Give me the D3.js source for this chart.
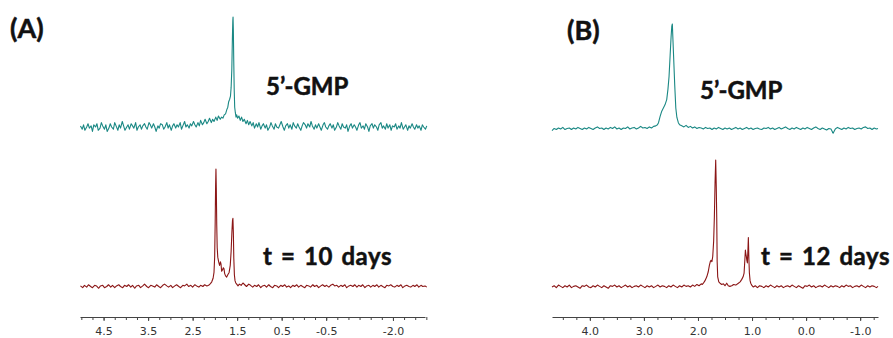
<!DOCTYPE html>
<html><head><meta charset="utf-8">
<script src="https://cdn.jsdelivr.net/npm/d3@7"></script>
<style>
html,body{margin:0;padding:0;background:#fff;}
svg{display:block;}
</style></head>
<body>
<svg id="chart" width="893" height="338"></svg>
<script>
// ---------- DATA (ppm, relative intensity %) ----------
const panelLabels = ["(A)", "(B)"];
const traceLabelsA = ["5\u2019-GMP", "t = 10 days"];
const traceLabelsB = ["5\u2019-GMP", "t = 12 days"];

const tickLabelsA = [4.5, 3.5, 2.5, 1.5, 0.5, -0.5, -2.0];
const tickLabelsB = [4.0, 3.0, 2.0, 1.0, 0.0, -1.0];
const minorTicksA = [5.0,4.75,4.5,4.25,4.0,3.75,3.5,3.25,3.0,2.75,2.5,2.25,2.0,1.75,1.5,1.25,1.0,0.75,0.5,0.25,0.0,-0.25,-0.5,-0.75,-1.0,-1.25,-1.5,-1.75,-2.0,-2.25,-2.5,-2.75];
const minorTicksB = [4.5,4.25,4.0,3.75,3.5,3.25,3.0,2.75,2.5,2.25,2.0,1.75,1.5,1.25,1.0,0.75,0.5,0.25,0.0,-0.25,-0.5,-0.75,-1.0,-1.25];

const specA_gmp = [
[5.02,1],[4.98,-2],[4.95,2],[4.92,-3],[4.88,0],[4.85,3],[4.82,-1],[4.78,1],[4.75,-4],[4.72,2],[4.68,0],[4.65,3],[4.62,-3],[4.58,-1],[4.55,4],[4.52,1],[4.48,-2],[4.45,2],[4.42,-4],[4.38,-1],[4.35,3],[4.32,0],[4.28,-2],[4.25,4],[4.22,1],[4.18,-3],[4.15,2],[4.12,-1],[4.08,5],[4.05,1],[4.02,-3],[3.98,0],[3.95,2],[3.92,-2],[3.88,3],[3.85,1],[3.82,-1],[3.78,4],[3.75,-3],[3.72,0],[3.68,2],[3.65,-2],[3.62,1],[3.58,3],[3.55,0],[3.52,-2],[3.48,4],[3.45,2],[3.42,-1],[3.38,3],[3.35,0],[3.32,-4],[3.28,1],[3.25,-1],[3.22,3],[3.18,2],[3.15,-2],[3.12,0],[3.08,4],[3.05,-1],[3.02,2],[2.98,-3],[2.95,1],[2.92,3],[2.88,-1],[2.85,2],[2.82,0],[2.78,4],[2.75,-2],[2.72,1],[2.68,5],[2.65,0],[2.62,2],[2.58,-1],[2.55,3],[2.52,1],[2.48,5],[2.45,2],[2.42,0],[2.38,4],[2.35,1],[2.32,6],[2.28,2],[2.25,4],[2.22,7],[2.18,3],[2.15,5],[2.12,8],[2.08,4],[2.05,7],[2.02,5],[1.98,9],[1.95,6],[1.92,10],[1.88,7],[1.85,9],[1.82,8],[1.79,11],[1.76,12],[1.73,16],[1.71,18],[1.69,23],[1.67,25],[1.65,28],[1.635,36],[1.62,52],[1.607,80],[1.598,96],[1.592,100],[1.585,88],[1.576,60],[1.566,34],[1.555,18],[1.54,13],[1.525,9],[1.51,11],[1.49,8],[1.46,10],[1.43,6],[1.40,9],[1.37,5],[1.34,7],[1.30,3],[1.27,6],[1.24,2],[1.21,5],[1.17,1],[1.14,4],[1.11,-1],[1.07,3],[1.04,0],[1.01,4],[0.97,-2],[0.94,1],[0.91,3],[0.87,-1],[0.84,2],[0.81,-3],[0.77,0],[0.74,4],[0.71,1],[0.67,-2],[0.64,3],[0.61,0],[0.57,-1],[0.54,2],[0.51,5],[0.47,0],[0.44,-3],[0.41,1],[0.37,3],[0.34,-1],[0.31,2],[0.27,-2],[0.24,4],[0.21,1],[0.17,-1],[0.14,3],[0.11,0],[0.07,-3],[0.04,1],[0.01,4],[-0.03,2],[-0.06,-1],[-0.09,3],[-0.13,0],[-0.16,5],[-0.19,1],[-0.23,-2],[-0.26,2],[-0.29,-1],[-0.33,3],[-0.36,0],[-0.39,-3],[-0.43,2],[-0.46,4],[-0.49,0],[-0.53,-2],[-0.56,1],[-0.59,3],[-0.63,-1],[-0.66,2],[-0.69,-3],[-0.73,0],[-0.76,4],[-0.79,1],[-0.83,-2],[-0.86,3],[-0.89,0],[-0.93,-1],[-0.96,2],[-0.99,-4],[-1.03,1],[-1.06,3],[-1.09,-1],[-1.13,2],[-1.16,0],[-1.19,-3],[-1.23,2],[-1.26,4],[-1.29,-1],[-1.33,1],[-1.36,-2],[-1.39,3],[-1.43,0],[-1.46,-4],[-1.49,1],[-1.53,3],[-1.56,-1],[-1.59,2],[-1.63,0],[-1.66,-3],[-1.69,2],[-1.73,4],[-1.76,-1],[-1.79,1],[-1.83,-2],[-1.86,3],[-1.89,-1],[-1.93,2],[-1.96,-3],[-1.99,1],[-2.03,0],[-2.06,3],[-2.09,-2],[-2.13,1],[-2.16,-1],[-2.19,4],[-2.23,-2],[-2.26,0],[-2.29,2],[-2.33,-3],[-2.36,1],[-2.39,-1],[-2.43,3],[-2.46,0],[-2.49,-2],[-2.53,2],[-2.56,-1],[-2.59,1],[-2.63,-3],[-2.66,2],[-2.69,0],[-2.73,-2],[-2.76,1]
];

const specA_10d = [
[5.02,0.5],[4.97,-1],[4.93,1],[4.88,-0.5],[4.84,1.5],[4.79,0],[4.75,-1],[4.70,1],[4.66,0.5],[4.61,-1.5],[4.57,0.5],[4.52,1],[4.48,-1],[4.43,0],[4.39,1.5],[4.34,-0.5],[4.30,1],[4.25,-1],[4.21,0.5],[4.16,1.5],[4.12,0],[4.07,-1],[4.03,1],[3.98,0],[3.94,1.5],[3.89,-0.5],[3.85,1],[3.80,-1.5],[3.76,0.5],[3.71,1],[3.67,-1],[3.62,0.5],[3.58,2],[3.53,0],[3.49,-1],[3.44,1],[3.40,0.5],[3.35,-0.5],[3.31,1.5],[3.26,0],[3.22,-1],[3.17,1],[3.13,2],[3.08,0.5],[3.04,-0.5],[2.99,1],[2.95,-1],[2.90,0.5],[2.86,1.5],[2.81,0],[2.77,-1],[2.72,1],[2.68,0.5],[2.63,2],[2.59,0],[2.54,1],[2.50,-0.5],[2.45,1.5],[2.41,0.5],[2.36,-0.5],[2.32,1],[2.27,0],[2.23,1.5],[2.18,0.5],[2.14,1],[2.10,2.5],[2.07,4],[2.04,7],[2.02,12],[2.005,25],[1.993,55],[1.984,85],[1.976,100],[1.968,84],[1.958,52],[1.948,33],[1.935,25],[1.915,21],[1.895,18],[1.875,21],[1.862,19],[1.848,13],[1.83,14],[1.81,16],[1.795,15],[1.78,11],[1.76,9],[1.735,8],[1.71,10],[1.68,12],[1.655,18],[1.635,30],[1.618,46],[1.605,56],[1.595,58],[1.585,46],[1.575,24],[1.562,10],[1.548,5],[1.53,3],[1.51,2],[1.48,0.5],[1.45,2],[1.41,1],[1.37,3],[1.33,1.5],[1.29,0],[1.24,2],[1.20,1],[1.15,-0.5],[1.11,1],[1.06,0],[1.02,1.5],[0.97,-1],[0.93,0.5],[0.88,1],[0.84,-0.5],[0.79,1.5],[0.75,0],[0.70,-1],[0.66,1],[0.61,0.5],[0.57,-1],[0.52,1],[0.48,0],[0.43,1.5],[0.39,-0.5],[0.34,0.5],[0.30,-1],[0.25,1],[0.21,0],[0.16,1.5],[0.12,-0.5],[0.07,1],[0.03,0],[-0.02,-1],[-0.06,1],[-0.11,0.5],[-0.15,-0.5],[-0.20,1.5],[-0.24,0],[-0.29,1],[-0.33,-1],[-0.38,0.5],[-0.42,1.5],[-0.47,0],[-0.51,1],[-0.56,-0.5],[-0.60,1],[-0.65,2],[-0.69,0.5],[-0.74,1],[-0.78,-0.5],[-0.83,1],[-0.87,0],[-0.92,1.5],[-0.96,-1],[-1.01,0.5],[-1.05,1],[-1.10,0],[-1.14,1.5],[-1.19,-0.5],[-1.23,1],[-1.28,0],[-1.32,1.5],[-1.37,-1],[-1.41,0.5],[-1.46,1],[-1.50,-0.5],[-1.55,1],[-1.59,0],[-1.64,1.5],[-1.68,-0.5],[-1.73,1],[-1.77,0],[-1.82,-1],[-1.86,1],[-1.91,0.5],[-1.95,1.5],[-2.00,0],[-2.04,-0.5],[-2.09,1],[-2.13,0],[-2.18,1.5],[-2.22,-1],[-2.27,0.5],[-2.31,1],[-2.36,0],[-2.40,-0.5],[-2.45,1],[-2.49,0],[-2.54,1.5],[-2.58,-0.5],[-2.63,1],[-2.67,0],[-2.72,0.5],[-2.76,-0.5]
];

const specB_gmp = [
[4.70,-1.5],[4.66,0.5],[4.62,-0.5],[4.58,1],[4.54,0],[4.50,1.5],[4.46,-0.5],[4.42,0.5],[4.38,1],[4.34,-0.5],[4.30,1],[4.26,0],[4.22,1.5],[4.18,0.5],[4.14,-0.5],[4.10,1],[4.06,0],[4.02,1.5],[3.98,0.5],[3.94,-0.5],[3.90,1],[3.86,2],[3.82,0.5],[3.78,1],[3.74,-0.5],[3.70,1],[3.66,0],[3.62,1.5],[3.58,0.5],[3.54,2],[3.50,0],[3.46,1],[3.42,-0.5],[3.38,1],[3.34,0.5],[3.30,2],[3.26,0],[3.22,1],[3.18,1.5],[3.14,0],[3.10,1],[3.06,2.5],[3.02,1],[2.98,1.5],[2.94,0.5],[2.90,2],[2.86,1],[2.82,2.5],[2.78,3],[2.75,4],[2.73,6],[2.70,12],[2.67,17],[2.64,20],[2.61,23],[2.578,28],[2.555,38],[2.535,50],[2.515,70],[2.497,88],[2.484,98],[2.474,100],[2.463,85],[2.45,68],[2.43,42],[2.41,20],[2.39,11],[2.363,6],[2.34,4],[2.30,3],[2.26,2],[2.22,3.5],[2.18,1.5],[2.14,2.5],[2.10,1],[2.06,2],[2.02,0.5],[1.98,1.5],[1.94,1],[1.90,0],[1.86,1.5],[1.82,0.5],[1.78,1],[1.74,-0.5],[1.70,1],[1.66,0],[1.62,1.5],[1.58,0.5],[1.54,-0.5],[1.50,1],[1.46,0],[1.42,1],[1.38,-0.5],[1.34,0.5],[1.30,1.5],[1.26,0],[1.22,1],[1.18,-0.5],[1.14,0.5],[1.10,1.5],[1.06,0],[1.02,1],[0.98,-0.5],[0.94,0.5],[0.90,1],[0.86,0],[0.82,-0.5],[0.78,1],[0.74,0.5],[0.70,1.5],[0.66,0],[0.62,1],[0.58,-0.5],[0.54,0.5],[0.50,1.5],[0.46,0],[0.42,1],[0.38,2],[0.34,0.5],[0.30,-0.5],[0.26,1],[0.22,0],[0.18,1.5],[0.14,0.5],[0.10,-0.5],[0.06,1],[0.02,0],[-0.02,1.5],[-0.06,0.5],[-0.10,-0.5],[-0.14,1],[-0.18,2],[-0.22,0.5],[-0.26,-0.5],[-0.30,1],[-0.34,0],[-0.38,-1],[-0.42,0.5],[-0.46,0],[-0.50,-4],[-0.54,0],[-0.58,1.5],[-0.62,0.5],[-0.66,-0.5],[-0.70,1],[-0.74,0],[-0.78,1.5],[-0.82,0.5],[-0.86,1],[-0.90,-0.5],[-0.94,0.5],[-0.98,1],[-1.02,0],[-1.06,1.5],[-1.10,2],[-1.14,0.5],[-1.18,1],[-1.22,-0.5],[-1.26,1],[-1.30,0],[-1.33,0.5]
];

const specB_12d = [
[4.70,0],[4.66,1],[4.62,-0.5],[4.58,1.5],[4.54,0.5],[4.50,-0.5],[4.46,1],[4.42,0],[4.38,1.5],[4.34,-0.5],[4.30,0.5],[4.26,1],[4.22,0],[4.18,-1],[4.14,1],[4.10,0.5],[4.06,1.5],[4.02,0],[3.98,-0.5],[3.94,1],[3.90,0],[3.86,1.5],[3.82,0.5],[3.78,-0.5],[3.74,1],[3.70,0],[3.66,-1],[3.62,1],[3.58,0.5],[3.54,1.5],[3.50,0],[3.46,1],[3.42,-0.5],[3.38,0.5],[3.34,1.5],[3.30,0],[3.26,1],[3.22,-0.5],[3.18,0.5],[3.14,1],[3.10,0],[3.06,1.5],[3.02,0.5],[2.98,-0.5],[2.94,1],[2.90,0],[2.86,1],[2.82,-0.5],[2.78,0.5],[2.74,1.5],[2.70,0],[2.66,1],[2.62,0.5],[2.58,-0.5],[2.54,1],[2.50,0],[2.46,1.5],[2.42,0.5],[2.38,-0.5],[2.34,1],[2.30,0],[2.26,1.5],[2.22,0.5],[2.18,1],[2.14,0],[2.10,1.5],[2.06,0.5],[2.02,2],[1.98,1],[1.94,2.5],[1.92,2],[1.90,3],[1.87,5],[1.837,8],[1.81,12],[1.789,17],[1.772,20],[1.758,21],[1.742,20],[1.727,24],[1.71,36],[1.697,55],[1.684,82],[1.672,100],[1.662,80],[1.653,55],[1.645,20],[1.635,8],[1.615,4],[1.592,3],[1.56,2],[1.53,2.5],[1.50,1],[1.468,3],[1.44,1],[1.41,0.5],[1.375,1],[1.34,2],[1.30,1.5],[1.253,3],[1.22,4],[1.19,6],[1.165,8],[1.147,11],[1.132,22],[1.123,29],[1.114,26],[1.105,24],[1.096,21],[1.086,19],[1.077,28],[1.068,39],[1.058,22],[1.049,11],[1.036,5],[1.024,3],[1.00,1],[0.976,0],[0.94,1],[0.90,-0.5],[0.86,1],[0.82,0.5],[0.78,-0.5],[0.74,1],[0.70,0],[0.66,1.5],[0.62,0.5],[0.58,-0.5],[0.54,1],[0.50,0],[0.46,1],[0.42,-0.5],[0.38,0.5],[0.34,1],[0.30,0],[0.26,1.5],[0.22,0.5],[0.18,-0.5],[0.14,1],[0.10,0],[0.06,-1],[0.02,1],[-0.02,0.5],[-0.06,1.5],[-0.10,0],[-0.14,1],[-0.18,-0.5],[-0.22,0.5],[-0.26,1],[-0.30,0],[-0.34,1.5],[-0.38,0.5],[-0.42,-0.5],[-0.46,1],[-0.50,0],[-0.54,1],[-0.58,0.5],[-0.62,-0.5],[-0.66,1],[-0.70,0],[-0.74,1.5],[-0.78,0.5],[-0.82,1],[-0.86,-0.5],[-0.90,0.5],[-0.94,1],[-0.98,0],[-1.02,1.5],[-1.06,0.5],[-1.10,-0.5],[-1.14,1],[-1.18,0],[-1.22,1],[-1.26,0.5],[-1.30,-0.5],[-1.33,0.5]
];

// ---------- LAYOUT ----------
const TEAL = "#1a8884";
const RED = "#8b1616";
const svg = d3.select("#chart");
const axisY = 317;

const xA = d3.scaleLinear().domain([5.03, -2.72]).range([80, 425]);
const xB = d3.scaleLinear().domain([4.70, -1.33]).range([552, 878]);

const traces = [
  {data: specA_gmp, x: xA, base: 127, top: 17, color: TEAL},
  {data: specA_10d, x: xA, base: 286.5, top: 169, color: RED},
  {data: specB_gmp, x: xB, base: 129, top: 24, color: TEAL},
  {data: specB_12d, x: xB, base: 287, top: 160, color: RED}
];

traces.forEach(t => {
  const y = d3.scaleLinear().domain([0, 100]).range([t.base, t.top]);
  const line = d3.line().x(d => t.x(d[0])).y(d => y(d[1]));
  svg.append("path").datum(t.data)
    .attr("d", line)
    .attr("fill", "none")
    .attr("stroke", t.color)
    .attr("stroke-width", 1.1)
    .attr("stroke-linejoin", "round");
});

// ---------- AXES ----------
function drawAxis(scale, minor, major) {
  const gMinor = svg.append("g").attr("transform", `translate(0,${axisY})`)
    .call(d3.axisBottom(scale).tickValues(minor).tickSize(3).tickSizeOuter(0).tickFormat(""));
  gMinor.select(".domain").attr("stroke", "#444").attr("stroke-width", 1.2);
  gMinor.selectAll(".tick line").attr("stroke", "#444");
  const gMajor = svg.append("g").attr("transform", `translate(0,${axisY})`)
    .call(d3.axisBottom(scale).tickValues(major).tickSize(4).tickPadding(6).tickSizeOuter(0)
      .tickFormat(d => d.toFixed(1)));
  gMajor.select(".domain").remove();
  gMajor.selectAll(".tick line").attr("stroke", "#444");
  gMajor.selectAll(".tick text")
    .attr("font-family", "DejaVu Sans, Verdana, sans-serif")
    .attr("font-size", 11)
    .attr("fill", "#333");
}
drawAxis(xA, minorTicksA, tickLabelsA);
drawAxis(xB, minorTicksB, tickLabelsB);

// ---------- TEXT ----------
const font = "Lato, 'Open Sans', sans-serif";
function label(txt, x, y, size, ws, ls) {
  svg.append("text").attr("x", x).attr("y", y)
    .attr("font-family", font).attr("font-weight", "bold")
    .attr("font-size", size).attr("fill", "#111")
    .attr("stroke", "#111").attr("stroke-width", 0.5)
    .attr("word-spacing", ws || 0)
    .attr("letter-spacing", ls || 0)
    .text(txt);
}
label(panelLabels[0], 10, 38, 27);
label(panelLabels[1], 567, 40, 27);
label(traceLabelsA[0], 266, 95, 24);
label(traceLabelsA[1], 263, 265, 24, 2, 0.6);
label(traceLabelsB[0], 700, 99, 24);
label(traceLabelsB[1], 761, 265, 24, 2, 0.6);
</script>
</body></html>
